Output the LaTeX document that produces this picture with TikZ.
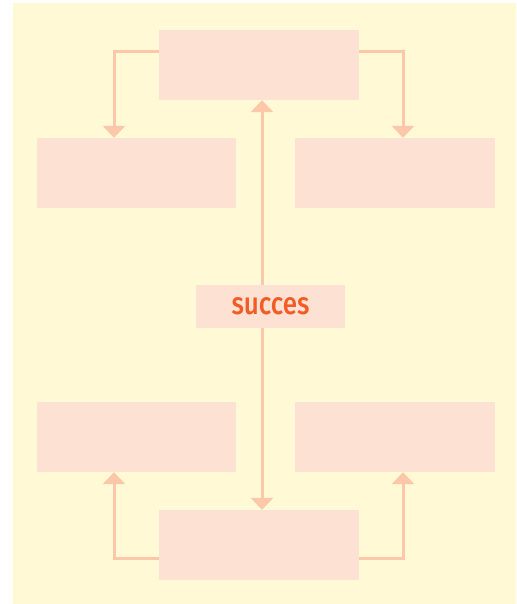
\documentclass[tikz,border=0pt]{standalone}
\usepackage{fontspec}
\newfontfamily\succfont{Fira Sans Medium}
\usetikzlibrary{arrows.meta}
\definecolor{cream}{HTML}{FFF9D6}
\definecolor{boxfill}{HTML}{FDE1D2}
\definecolor{linkcol}{HTML}{FDC7AA}
\definecolor{textcol}{HTML}{F45B25}
\tikzset{
 box/.style={fill=boxfill, minimum width=200pt, minimum height=70pt, inner sep=0pt},
 link/.style={draw=linkcol, line width=3pt, -{Triangle[width=22pt,length=12pt]}}
}
\begin{document}
\begin{tikzpicture}[x=1pt,y=-1pt]
 \useasboundingbox (0,0) rectangle (516,604);
 \fill[white] (0,0) rectangle (516,604);
 \fill[cream] (13,3) rectangle (516,604);

 \node[box] (top) at (259,65) {};
 \node[box, minimum width=199pt] (upl) at (136.5,173) {};
 \node[box] (upr) at (395,173) {};
 \node[box, minimum width=149pt, minimum height=43pt, font=\succfont\fontsize{26}{28}\selectfont, text=textcol] (succ) at (270.5,306.5) {\raisebox{1pt}{\scalebox{1}[1.2]{succes}}};
 \node[box, minimum width=199pt] (lowl) at (136.5,437) {};
 \node[box] (lowr) at (395,437) {};
 \node[box] (bot) at (259,545) {};

 \draw[link] ([yshift=13pt]top.west) -| ([xshift=-22.5pt]upl.north);
 \draw[link] ([yshift=13pt]top.east) -| ([xshift=8pt]upr.north);
 \draw[link] ([xshift=-8.5pt]succ.north) -- ([xshift=3pt]top.south);
 \draw[link] ([xshift=-8.5pt]succ.south) -- ([xshift=3pt]bot.north);
 \draw[link] ([yshift=-13pt]bot.west) -| ([xshift=-22.5pt]lowl.south);
 \draw[link] ([yshift=-13pt]bot.east) -| ([xshift=8pt]lowr.south);
\end{tikzpicture}
\end{document}
